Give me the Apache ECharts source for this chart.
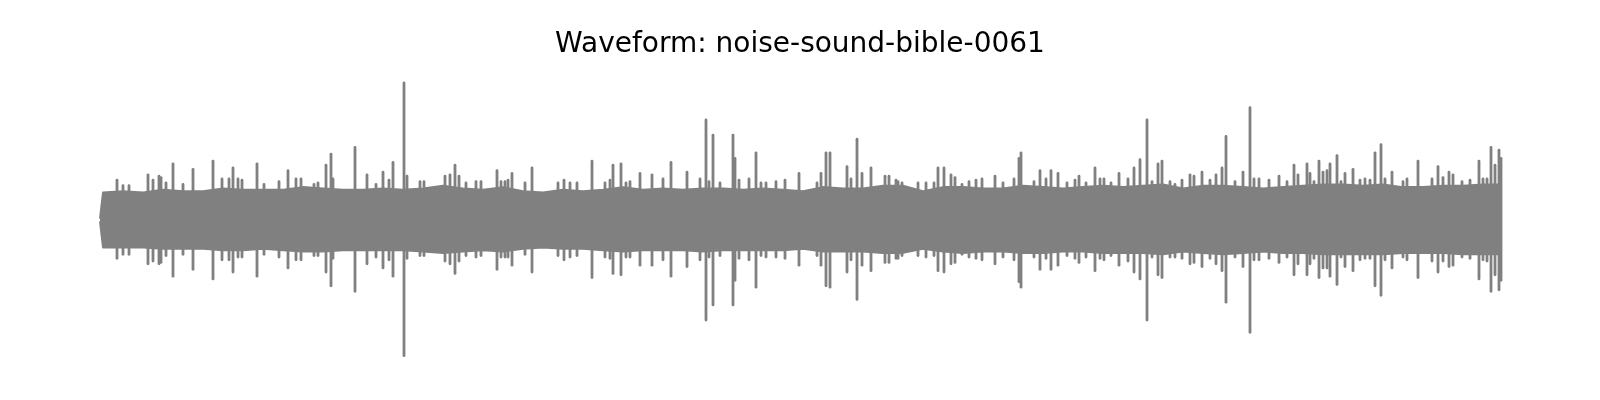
<!DOCTYPE html>
<html>
<head>
<meta charset="utf-8">
<script src="https://cdn.jsdelivr.net/npm/echarts@6/dist/echarts.min.js"></script>
<style>
  html, body { margin: 0; padding: 0; background: #ffffff; }
  #chart { width: 1600px; height: 400px; }
</style>
</head>
<body>
<div id="chart"></div>
<script>
// ---- Data (time in seconds, amplitude normalised to the largest peak) ----
const titleText = 'Waveform: noise-sound-bible-0061';

// Body envelope of the waveform (upper and lower magnitude)
const envT = [0, 0.02, 0.03, 0.23, 0.43, 0.63, 0.83, 1.03, 1.23, 1.43, 1.63, 1.83, 2.03, 2.23, 2.43, 2.63, 2.83, 3.03, 3.23, 3.43, 3.63, 3.83,
  4.03, 4.23, 4.43, 4.63, 4.83, 5.03, 5.23, 5.43, 5.63, 5.83, 6.03, 6.23, 6.43, 6.63, 6.83, 7.03, 7.23, 7.43, 7.63, 7.83,
  8.03, 8.23, 8.43, 8.63, 8.83, 9.03, 9.23, 9.43, 9.63, 9.83, 10.03, 10.23, 10.43, 10.63, 10.83, 11.03, 11.23, 11.43, 11.63, 11.83,
  12.03, 12.23, 12.43, 12.63, 12.83, 13.03, 13.23, 13.43, 13.63, 13.83, 14.02];
const envTop = [0.01, 0.02, 0.20, 0.21, 0.20, 0.22, 0.21, 0.21, 0.23, 0.22, 0.22, 0.22, 0.24, 0.23, 0.22, 0.22, 0.23, 0.22, 0.23, 0.25, 0.23, 0.22,
  0.24, 0.21, 0.20, 0.22, 0.21, 0.22, 0.24, 0.22, 0.23, 0.22, 0.23, 0.23, 0.22, 0.23, 0.22, 0.21, 0.24, 0.23, 0.23, 0.25,
  0.25, 0.21, 0.24, 0.24, 0.23, 0.23, 0.25, 0.24, 0.23, 0.24, 0.25, 0.24, 0.25, 0.26, 0.23, 0.25, 0.25, 0.24, 0.23, 0.24,
  0.25, 0.26, 0.26, 0.25, 0.26, 0.24, 0.24, 0.25, 0.25, 0.26, 0.26];
const envBot = [0.01, 0.02, 0.20, 0.20, 0.20, 0.21, 0.21, 0.21, 0.22, 0.22, 0.21, 0.22, 0.23, 0.23, 0.22, 0.22, 0.22, 0.22, 0.23, 0.24, 0.23, 0.22,
  0.23, 0.21, 0.20, 0.21, 0.21, 0.22, 0.23, 0.22, 0.22, 0.22, 0.23, 0.22, 0.22, 0.22, 0.22, 0.21, 0.23, 0.23, 0.23, 0.24,
  0.24, 0.21, 0.23, 0.24, 0.23, 0.23, 0.24, 0.24, 0.23, 0.23, 0.24, 0.24, 0.24, 0.25, 0.23, 0.24, 0.25, 0.24, 0.23, 0.24,
  0.24, 0.25, 0.25, 0.25, 0.25, 0.24, 0.24, 0.24, 0.25, 0.25, 0.25];

// Individual peaks rising above the body
const spikeT = [0.17, 0.23, 0.29, 0.48, 0.53, 0.59, 0.61, 0.66, 0.73, 0.83, 0.93, 1.13, 1.22, 1.29, 1.33, 1.38, 1.42, 1.57, 1.64, 1.79, 1.88, 1.96, 2.01,
  2.14, 2.18, 2.26, 2.31, 2.33, 2.55, 2.67, 2.76, 2.83, 2.89, 2.93, 3.04, 3.07, 3.20, 3.24, 3.45, 3.50, 3.55, 3.59, 3.66, 3.76, 3.81, 3.97,
  4.01, 4.05, 4.08, 4.12, 4.25, 4.32, 4.58, 4.64, 4.70, 4.77, 4.92, 5.05, 5.10, 5.13, 5.21, 5.26, 5.30, 5.40, 5.52, 5.63, 5.71, 5.87, 6.00,
  6.06, 6.09, 6.13, 6.20, 6.33, 6.35, 6.39, 6.49, 6.56, 6.61, 6.66, 6.76, 6.85, 6.99, 7.17, 7.21, 7.26, 7.30, 7.47, 7.51, 7.57, 7.62, 7.71, 7.85, 7.89, 7.96,
  7.98, 8.02, 8.18, 8.26, 8.34, 8.38, 8.44, 8.51, 8.55, 8.62, 8.69, 8.76, 8.82, 8.95, 9.03, 9.14, 9.19, 9.21, 9.34, 9.40, 9.46, 9.51, 9.58, 9.67, 9.75, 9.79, 9.86, 9.95,
  10.00, 10.04, 10.11, 10.19, 10.28, 10.34, 10.40, 10.47, 10.52, 10.58, 10.62, 10.70, 10.75, 10.82, 10.90, 10.94, 11.02, 11.10, 11.16, 11.22, 11.26, 11.35, 11.43, 11.50, 11.54, 11.59, 11.69, 11.79, 11.87, 11.94,
  11.98, 12.07, 12.10, 12.14, 12.19, 12.23, 12.27, 12.30, 12.37, 12.41, 12.45, 12.53, 12.60, 12.65, 12.70, 12.75, 12.81, 12.85, 12.92, 13.03, 13.07, 13.18, 13.32, 13.38, 13.43, 13.49, 13.53, 13.62, 13.70, 13.79, 13.83, 13.87, 13.91, 13.95, 13.99, 14.01];
const spikeTop = [0.29, 0.25, 0.25, 0.33, 0.29, 0.32, 0.31, 0.27, 0.41, 0.26, 0.37, 0.43, 0.30, 0.30, 0.38, 0.30, 0.29, 0.41, 0.26, 0.28, 0.36, 0.30, 0.30,
  0.26, 0.27, 0.40, 0.48, 0.30, 0.53, 0.33, 0.26, 0.35, 0.29, 0.42, 1.00, 0.32, 0.28, 0.28, 0.32, 0.33, 0.40, 0.32, 0.27, 0.28, 0.28, 0.36,
  0.28, 0.28, 0.29, 0.34, 0.27, 0.38, 0.27, 0.29, 0.27, 0.27, 0.43, 0.27, 0.29, 0.40, 0.41, 0.27, 0.28, 0.34, 0.33, 0.30, 0.42, 0.35, 0.30,
  0.73, 0.28, 0.62, 0.27, 0.62, 0.45, 0.29, 0.30, 0.49, 0.27, 0.27, 0.28, 0.29, 0.34, 0.27, 0.34, 0.49, 0.49, 0.39, 0.30, 0.59, 0.34, 0.38, 0.32, 0.32, 0.29,
  0.28, 0.27, 0.27, 0.27, 0.27, 0.38, 0.38, 0.33, 0.31, 0.26, 0.28, 0.29, 0.30, 0.32, 0.27, 0.30, 0.45, 0.49, 0.28, 0.36, 0.30, 0.36, 0.34, 0.27, 0.29, 0.32, 0.27, 0.38,
  0.30, 0.30, 0.27, 0.34, 0.30, 0.38, 0.44, 0.73, 0.28, 0.41, 0.43, 0.28, 0.26, 0.29, 0.33, 0.32, 0.35, 0.29, 0.33, 0.38, 0.61, 0.28, 0.35, 0.82, 0.30, 0.30, 0.29, 0.32, 0.28, 0.40,
  0.33, 0.41, 0.34, 0.28, 0.43, 0.35, 0.36, 0.41, 0.47, 0.28, 0.34, 0.37, 0.29, 0.30, 0.29, 0.49, 0.55, 0.30, 0.35, 0.28, 0.30, 0.43, 0.30, 0.39, 0.31, 0.35, 0.33, 0.28, 0.29, 0.43, 0.30, 0.30, 0.53, 0.40, 0.51, 0.45];
const spikeBot = [0.28, 0.25, 0.25, 0.32, 0.30, 0.32, 0.31, 0.26, 0.41, 0.25, 0.36, 0.43, 0.29, 0.29, 0.38, 0.27, 0.27, 0.41, 0.25, 0.27, 0.35, 0.29, 0.29,
  0.26, 0.26, 0.38, 0.48, 0.28, 0.52, 0.32, 0.27, 0.35, 0.29, 0.41, 0.99, 0.28, 0.26, 0.26, 0.30, 0.32, 0.39, 0.30, 0.26, 0.27, 0.26, 0.36,
  0.27, 0.27, 0.27, 0.33, 0.25, 0.38, 0.26, 0.29, 0.27, 0.26, 0.42, 0.27, 0.28, 0.39, 0.40, 0.27, 0.27, 0.33, 0.33, 0.29, 0.41, 0.34, 0.29,
  0.73, 0.27, 0.62, 0.26, 0.62, 0.44, 0.28, 0.29, 0.49, 0.26, 0.27, 0.27, 0.28, 0.33, 0.26, 0.33, 0.48, 0.49, 0.38, 0.29, 0.58, 0.33, 0.37, 0.31, 0.31, 0.28,
  0.28, 0.26, 0.26, 0.27, 0.26, 0.37, 0.38, 0.32, 0.31, 0.25, 0.27, 0.28, 0.29, 0.32, 0.27, 0.29, 0.45, 0.49, 0.27, 0.36, 0.28, 0.36, 0.33, 0.26, 0.28, 0.31, 0.27, 0.37,
  0.28, 0.29, 0.26, 0.33, 0.30, 0.38, 0.43, 0.73, 0.27, 0.40, 0.42, 0.27, 0.27, 0.28, 0.32, 0.31, 0.34, 0.28, 0.32, 0.37, 0.60, 0.27, 0.34, 0.82, 0.29, 0.29, 0.28, 0.31, 0.27, 0.40,
  0.32, 0.40, 0.32, 0.28, 0.42, 0.35, 0.35, 0.41, 0.47, 0.27, 0.34, 0.37, 0.29, 0.28, 0.28, 0.48, 0.55, 0.29, 0.35, 0.27, 0.29, 0.42, 0.30, 0.38, 0.30, 0.34, 0.33, 0.27, 0.28, 0.43, 0.29, 0.30, 0.52, 0.40, 0.51, 0.44];

// ---- Build series data from the arrays ----
const WAVE = '#808080';
const topData = envT.map((t, i) => [t, envTop[i]]);
const botData = envT.map((t, i) => [t, -envBot[i]]);
const spikeData = spikeT.map((t, i) => [t, spikeTop[i], spikeBot[i]]);

const chart = echarts.init(document.getElementById('chart'), null, { renderer: 'canvas' });
chart.setOption({
  animation: false,
  backgroundColor: '#ffffff',
  title: {
    text: titleText,
    left: 'center',
    top: 26,
    textStyle: { fontFamily: 'DejaVu Sans', fontSize: 28, fontWeight: 'normal', color: '#000000' }
  },
  grid: { left: 100, right: 98, top: 83, bottom: 43 },
  xAxis: { type: 'value', min: 0, max: 14.02, show: false },
  yAxis: { type: 'value', min: -1, max: 1, show: false },
  series: [
    {
      type: 'line', data: topData, symbol: 'none', silent: true,
      lineStyle: { color: WAVE, width: 2, join: 'round' },
      areaStyle: { color: WAVE, opacity: 1, origin: 0 }
    },
    {
      type: 'line', data: botData, symbol: 'none', silent: true,
      lineStyle: { color: WAVE, width: 2, join: 'round' },
      areaStyle: { color: WAVE, opacity: 1, origin: 0 }
    },
    {
      type: 'custom', data: spikeData, silent: true,
      renderItem: function (params, api) {
        const p1 = api.coord([api.value(0), api.value(1)]);
        const p2 = api.coord([api.value(0), -api.value(2)]);
        return {
          type: 'line',
          shape: { x1: p1[0], y1: p1[1], x2: p2[0], y2: p2[1] },
          style: { stroke: WAVE, lineWidth: 2.8, lineCap: 'round' }
        };
      }
    }
  ]
});
</script>
</body>
</html>
